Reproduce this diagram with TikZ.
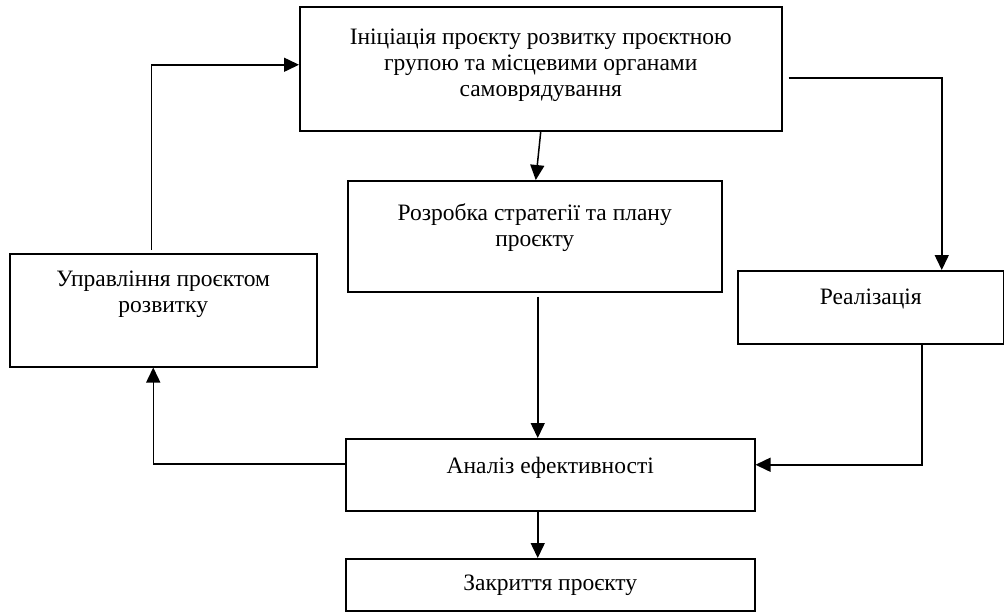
\documentclass[tikz,border=0pt]{standalone}
\usepackage{fontspec}
\setmainfont{Liberation Serif}
\usetikzlibrary{positioning,arrows.meta}
\tikzset{
	blok/.style={draw,line width=1.5pt,anchor=north west,inner sep=0pt},
	napys/.style={anchor=north,align=center,inner sep=0pt,font=\fontsize{23.5}{26}\selectfont},
	strilka/.style={line width=1.5pt,-{Triangle[length=15pt,width=14pt]}}
}
\begin{document}
\begin{tikzpicture}[x=1pt,y=-1pt]
	\useasboundingbox (0,0) rectangle (1004,611);
	% blocks
	\node[blok,minimum width=482pt,minimum height=124pt] (init) at (299,6) {};
	\node[blok,minimum width=374pt,minimum height=111pt] (strat) at (347,180) {};
	\node[blok,minimum width=307pt,minimum height=113pt] (upr) at (9,253) {};
	\node[blok,minimum width=266pt,minimum height=73pt] (real) at (737,270) {};
	\node[blok,minimum width=409pt,minimum height=72pt] (anal) at (345,438) {};
	\node[blok,minimum width=409pt,minimum height=52pt] (zakr) at (345,558) {};
	% texts
	\node[napys,below=23pt of init.north] (initt) {Ініціація проєкту розвитку проєктною\\групою та місцевими органами\\самоврядування};
	\node[napys,below=23pt of strat.north] (stratt) {Розробка стратегії та плану\\проєкту};
	\node[napys,below=18pt of upr.north] (uprt) {Управління проєктом\\розвитку};
	\node[napys,below=19pt of real.north] (realt) {Реалізація};
	\node[napys,below=19pt of anal.north] (analt) {Аналіз ефективності};
	\node[napys,below=17pt of zakr.north] (zakrt) {Закриття проєкту};
	% arrows
	\draw[strilka] (init.south) -- ([xshift=1pt]strat.north);
	\draw[strilka] ([xshift=-12pt,yshift=3pt]upr.north) |- ([yshift=4pt]init.west);
	\draw[strilka] ([xshift=6pt,yshift=-9pt]init.east) -| ([xshift=71pt]real.north);
	\draw[strilka] ([xshift=3pt,yshift=-4pt]strat.south) -- ([xshift=-12.5pt]anal.north);
	\draw[strilka] ([xshift=51pt]real.south) |- ([yshift=10pt]anal.east);
	\draw[strilka] ([yshift=11pt]anal.west) -| ([xshift=-10pt]upr.south);
	\draw[strilka] ([xshift=-12.5pt]anal.south) -- ([xshift=-12.5pt]zakr.north);
\end{tikzpicture}
\end{document}
